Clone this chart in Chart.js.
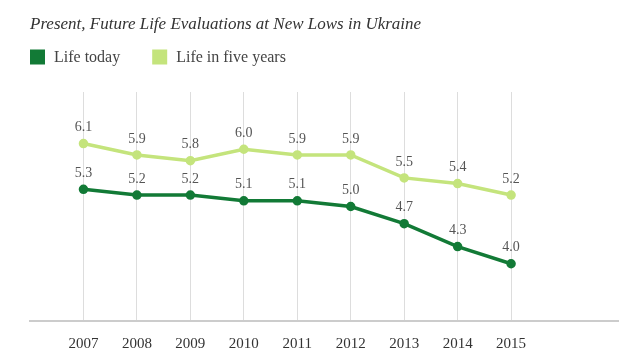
<!DOCTYPE html>
<html>
<head>
<meta charset="utf-8">
<script src="https://cdn.jsdelivr.net/npm/chart.js@4/dist/chart.umd.min.js"></script>
<style>
  html, body { margin: 0; padding: 0; background: #fff; }
  #wrap { width: 640px; height: 360px; }
</style>
</head>
<body>
<div id="wrap"><canvas id="chart" width="640" height="360"></canvas></div>
<script>
const years = [2007, 2008, 2009, 2010, 2011, 2012, 2013, 2014, 2015];
const lifeToday = [5.3, 5.2, 5.2, 5.1, 5.1, 5.0, 4.7, 4.3, 4.0];
const lifeFiveYears = [6.1, 5.9, 5.8, 6.0, 5.9, 5.9, 5.5, 5.4, 5.2];

const darkGreen = '#127a36';
const lightGreen = '#c4e47c';
const serif = "'Liberation Serif', 'DejaVu Serif', serif";

// value labels above every point
const pointLabels = {
    id: 'pointLabels',
    afterDatasetsDraw(chart) {
        const ctx = chart.ctx;
        ctx.save();
        ctx.font = '14px ' + serif;
        ctx.fillStyle = '#555';
        ctx.textAlign = 'center';
        ctx.textBaseline = 'bottom';
        chart.data.datasets.forEach((ds, i) => {
            const meta = chart.getDatasetMeta(i);
            meta.data.forEach((pt, k) => {
                ctx.fillText(ds.data[k].y.toFixed(1), pt.x, pt.y - 9);
            });
        });
        ctx.restore();
    }
};

// legend row with square swatches, drawn between title and plot
const squareLegend = {
    id: 'squareLegend',
    afterDraw(chart) {
        const ctx = chart.ctx;
        const size = 15;
        const cy = chart.chartArea.top - 35;
        let x = chart.chartArea.left;
        ctx.save();
        ctx.font = '16px ' + serif;
        ctx.textBaseline = 'middle';
        chart.data.datasets.forEach(ds => {
            ctx.fillStyle = ds.borderColor;
            ctx.fillRect(x, cy - size / 2, size, size);
            ctx.fillStyle = '#444';
            ctx.fillText(ds.label, x + size + 9, cy + 1);
            x += size + 9 + ctx.measureText(ds.label).width + 32;
        });
        ctx.restore();
    }
};

new Chart(document.getElementById('chart'), {
    type: 'line',
    data: {
        datasets: [
            {
                label: 'Life today',
                data: years.map((y, k) => ({ x: y, y: lifeToday[k] })),
                borderColor: darkGreen,
                backgroundColor: darkGreen,
                borderWidth: 3.5,
                pointRadius: 3,
                pointHoverRadius: 3,
                tension: 0
            },
            {
                label: 'Life in five years',
                data: years.map((y, k) => ({ x: y, y: lifeFiveYears[k] })),
                borderColor: lightGreen,
                backgroundColor: lightGreen,
                borderWidth: 3.5,
                pointRadius: 3,
                pointHoverRadius: 3,
                tension: 0
            }
        ]
    },
    options: {
        responsive: false,
        animation: false,
        layout: { padding: { left: 30, right: 22, top: 0, bottom: -7 } },
        plugins: {
            tooltip: { enabled: false },
            legend: { display: false },
            title: {
                display: true,
                text: 'Present, Future Life Evaluations at New Lows in Ukraine',
                align: 'start',
                color: '#333',
                font: { family: serif, size: 17, style: 'italic', weight: 'normal' },
                padding: { top: 14, bottom: 57.6 }
            }
        },
        scales: {
            x: {
                type: 'linear',
                min: 2006,
                max: 2017,
                afterBuildTicks(scale) {
                    scale.ticks = years.map(v => ({ value: v }));
                },
                ticks: {
                    color: '#333',
                    padding: 14,
                    font: { family: serif, size: 15 },
                    callback: v => String(v)
                },
                grid: { color: '#dddddd', lineWidth: 1, drawTicks: false },
                border: { display: true, color: '#cccccc', width: 2 }
            },
            y: {
                display: false,
                min: 3,
                max: 7
            }
        }
    },
    plugins: [pointLabels, squareLegend]
});
</script>
</body>
</html>
